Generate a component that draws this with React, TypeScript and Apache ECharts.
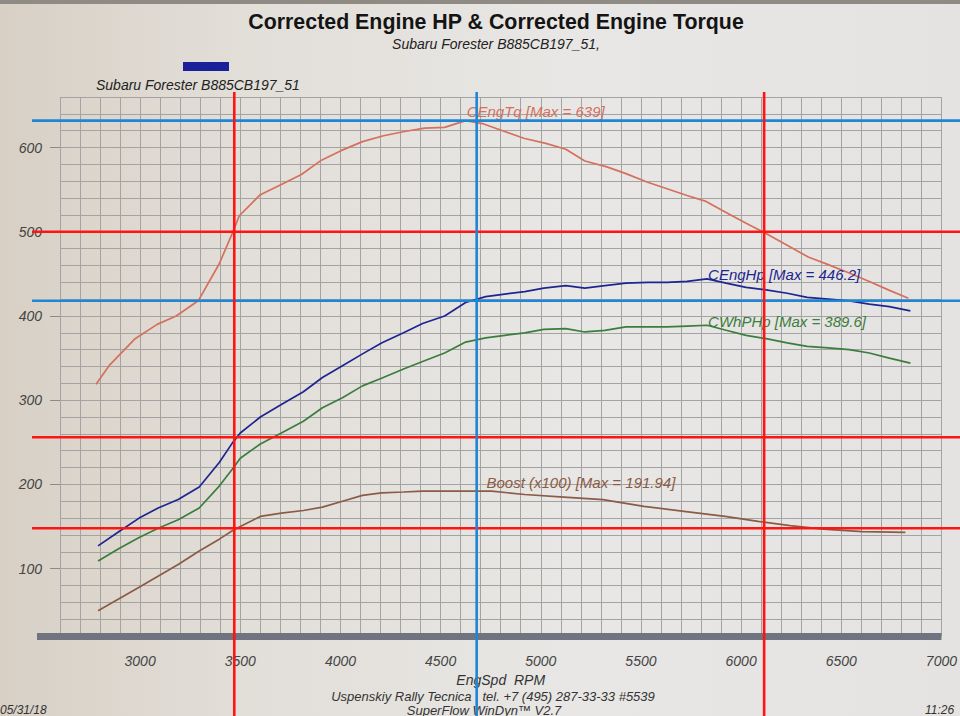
import React, { useEffect, useRef } from "react";
import * as echarts from "echarts";

// ---- data read from the dyno sheet ----
const torqueRpm = [2780, 2845, 2975, 3085, 3180, 3290, 3395, 3460, 3495, 3600, 3705, 3805, 3905, 4000, 4110, 4215, 4320, 4420, 4520, 4625, 4715, 4820, 4915, 5025, 5125, 5220, 5330, 5425, 5530, 5630, 5730, 5825, 5925, 6025, 6115, 6230, 6335, 6435, 6540, 6640, 6735, 6835];
const torqueVals = [319, 341, 373, 390, 400, 418, 462, 498, 519, 544, 556, 568, 585, 596, 607, 614, 619, 623, 624, 632, 628, 619, 611, 605, 598, 584, 577, 569, 559, 551, 543, 536, 523, 510, 499, 484, 470, 461, 451, 441, 431, 421];

const hpRpm = [2790, 2895, 2995, 3090, 3190, 3295, 3395, 3460, 3500, 3600, 3705, 3815, 3910, 4010, 4110, 4205, 4315, 4410, 4520, 4625, 4725, 4820, 4920, 5015, 5125, 5220, 5320, 5425, 5535, 5630, 5730, 5830, 5925, 6025, 6125, 6230, 6330, 6435, 6540, 6640, 6740, 6845];
const engineHpVals = [127, 144, 160, 172, 182, 197, 226, 249, 261, 280, 295, 310, 327, 341, 355, 368, 380, 391, 400, 416, 423, 426, 429, 433, 436, 433, 436, 439, 440, 440, 441, 444, 439, 434, 431, 427, 422, 420, 418, 414, 411, 406];
const wheelHpVals = [109, 124, 137, 148, 158, 172, 198, 218, 231, 248, 261, 275, 291, 303, 317, 326, 337, 346, 356, 369, 374, 377, 380, 384, 385, 381, 383, 387, 387, 387, 388, 389, 383, 377, 373, 368, 364, 362, 360, 356, 350, 344];

const boostRpm = [2790, 2995, 3190, 3295, 3395, 3460, 3500, 3600, 3705, 3815, 3910, 4010, 4110, 4205, 4315, 4410, 4510, 4665, 4755, 4920, 5115, 5310, 5515, 5715, 5920, 6085, 6245, 6410, 6605, 6820];
const boostVals = [50, 78, 105, 121, 135, 145, 150, 162, 166, 169, 173, 180, 187, 190, 191, 192, 192, 192, 192, 188, 185, 182, 174, 168, 162, 156, 151, 147, 144, 143];

const xTickLabels = [3000, 3500, 4000, 4500, 5000, 5500, 6000, 6500, 7000];
const yTickLabels = [100, 200, 300, 400, 500, 600];

const torqueLabel = "CEngTq [Max = 639]";
const engineHpLabel = "CEngHp [Max = 446.2]";
const wheelHpLabel = "CWhPHp [Max = 389.6]";
const boostLabel = "Boost (x100) [Max = 191.94]";

// hand-drawn guide lines (data coordinates)
const redVerticals = [3470, 6115];
const blueVerticals = [4680];
const redHorizontals = [500, 256, 148];
const blueHorizontals = [632, 418];

const FONT = '"Liberation Sans", Arial, Helvetica, sans-serif';

export default function App() {
  const ref = useRef<HTMLDivElement>(null);

  useEffect(() => {
    if (!ref.current) return;
    const chart = echarts.init(ref.current, null, { renderer: "svg" });
    const pair = (xs: number[], ys: number[]) => xs.map((x, i) => [x, ys[i]]);

    const mk = (name: string, color: string, xs: number[], ys: number[], text: string, at: number[]) => ({
      type: "line",
      name,
      data: pair(xs, ys),
      showSymbol: false,
      symbol: "none",
      smooth: false,
      lineStyle: { color, width: 1.7 },
      itemStyle: { color },
      z: 3,
      markPoint: {
        symbol: "circle",
        symbolSize: 0,
        silent: true,
        data: [
          {
            coord: at,
            label: {
              show: true,
              formatter: text,
              position: [0, 0],
              align: "left",
              verticalAlign: "middle",
              color,
              fontStyle: "italic",
              fontSize: 15,
              fontFamily: FONT,
            },
          },
        ],
      },
    });

    const baseGraphics: any[] = [
      { type: "rect", shape: { x: 0, y: 0, width: 960, height: 4 }, style: { fill: "#8f8a84" } },
      {
        type: "text", x: 496, y: 21, scaleX: 0.93,
        style: { text: "Corrected Engine HP & Corrected Engine Torque", fontFamily: FONT, fontWeight: "bold", fontSize: 23, fill: "#141414", align: "center", verticalAlign: "middle" },
      },
      {
        type: "text", x: 496, y: 44,
        style: { text: "Subaru Forester B885CB197_51,", fontFamily: FONT, fontStyle: "italic", fontSize: 14, fill: "#222", align: "center", verticalAlign: "middle" },
      },
      { type: "rect", shape: { x: 183, y: 62, width: 46, height: 9 }, style: { fill: "#1a1f9a" } },
      {
        type: "text", x: 96, y: 85,
        style: { text: "Subaru Forester B885CB197_51", fontFamily: FONT, fontStyle: "italic", fontSize: 14, fill: "#222", align: "left", verticalAlign: "middle" },
      },
      { type: "rect", shape: { x: 37, y: 633, width: 25, height: 7 }, style: { fill: "#6f7480" } },
      {
        type: "text", x: 493, y: 696,
        style: { text: "Uspenskiy Rally Tecnica   tel. +7 (495) 287-33-33 #5539", fontFamily: FONT, fontStyle: "italic", fontSize: 13, fill: "#333", align: "center", verticalAlign: "middle" },
      },
      {
        type: "text", x: 484, y: 710,
        style: { text: "SuperFlow WinDyn\u2122 V2.7", fontFamily: FONT, fontStyle: "italic", fontSize: 13, fill: "#333", align: "center", verticalAlign: "middle" },
      },
      {
        type: "text", x: 0, y: 710,
        style: { text: "05/31/18", fontFamily: FONT, fontStyle: "italic", fontSize: 12, fill: "#333", align: "left", verticalAlign: "middle" },
      },
      {
        type: "text", x: 925, y: 710,
        style: { text: "11:26", fontFamily: FONT, fontStyle: "italic", fontSize: 12, fill: "#333", align: "left", verticalAlign: "middle" },
      },
    ];

    const gridColor = "#a3a3a3";

    const option: any = {
      animation: false,
      backgroundColor: "transparent",
      grid: { left: 60, right: 3, top: 97, bottom: 80, containLabel: false },
      xAxis: {
        type: "value",
        min: 2600,
        max: 7000,
        interval: 100,
        name: "EngSpd  RPM",
        nameLocation: "middle",
        nameGap: 33,
        nameTextStyle: { fontFamily: FONT, fontStyle: "italic", fontSize: 14, color: "#333" },
        axisLine: { show: true, lineStyle: { color: "#6f7480", width: 7, cap: "butt" } },
        axisTick: { show: false },
        axisLabel: {
          customValues: xTickLabels,
          formatter: (v: number) => String(v),
          margin: 18,
          fontFamily: FONT,
          fontStyle: "italic",
          fontSize: 14,
          color: "#444",
        },
        splitLine: { show: true, lineStyle: { color: gridColor, width: 1 } },
      },
      yAxis: [
        {
          type: "value",
          min: 20,
          max: 660,
          interval: 20,
          axisLine: { show: false },
          axisTick: { show: false },
          axisLabel: {
            customValues: yTickLabels,
            formatter: (v: number) => String(v),
            margin: 18,
            fontFamily: FONT,
            fontStyle: "italic",
            fontSize: 14,
            color: "#444",
          },
          splitLine: { show: true, lineStyle: { color: gridColor, width: 1 } },
        },
        {
          type: "value",
          position: "left",
          min: 20,
          max: 660,
          interval: 20,
          axisLine: { show: false },
          axisTick: { show: true, customValues: yTickLabels, length: 10, lineStyle: { color: "#8a8a8a" } },
          axisLabel: { show: false },
          splitLine: { show: false },
        },
      ],
      series: [
        mk("CEngTq", "#d4705c", torqueRpm, torqueVals, torqueLabel, [4630, 643]),
        mk("CEngHp", "#1d2590", hpRpm, engineHpVals, engineHpLabel, [5835, 449]),
        mk("CWhPHp", "#3b7d3c", hpRpm, wheelHpVals, wheelHpLabel, [5835, 393]),
        mk("Boost", "#8b5b45", boostRpm, boostVals, boostLabel, [4729, 202]),
      ],
      graphic: { elements: baseGraphics },
    };

    chart.setOption(option);

    const toPx = (x: number, y: number) => chart.convertToPixel({ xAxisIndex: 0, yAxisIndex: 0 }, [x, y]) as number[];
    const lines: any[] = [];
    const addV = (v: number, color: string) => {
      const p = toPx(v, 300);
      lines.push({ type: "line", z: 100, shape: { x1: p[0], y1: 92, x2: p[0], y2: 716 }, style: { stroke: color, lineWidth: 2.6 } });
    };
    const addH = (v: number, color: string) => {
      const p = toPx(4000, v);
      lines.push({ type: "line", z: 100, shape: { x1: 32, y1: p[1], x2: 960, y2: p[1] }, style: { stroke: color, lineWidth: 2.6 } });
    };
    blueHorizontals.forEach((v) => addH(v, "#1f86d6"));
    redHorizontals.forEach((v) => addH(v, "#ff1414"));
    blueVerticals.forEach((v) => addV(v, "#1f86d6"));
    redVerticals.forEach((v) => addV(v, "#ff1414"));

    chart.setOption({ graphic: { elements: [...baseGraphics, ...lines] } });

    return () => chart.dispose();
  }, []);

  return (
    <div
      style={{
        position: "fixed",
        left: 0,
        top: 0,
        width: 960,
        height: 716,
        background: "linear-gradient(90deg, #d8d0c5 0%, #e2ded8 25%, #e8e7e5 60%, #e4e3e1 100%)",
      }}
    >
      <div ref={ref} style={{ width: 960, height: 716 }} />
    </div>
  );
}
